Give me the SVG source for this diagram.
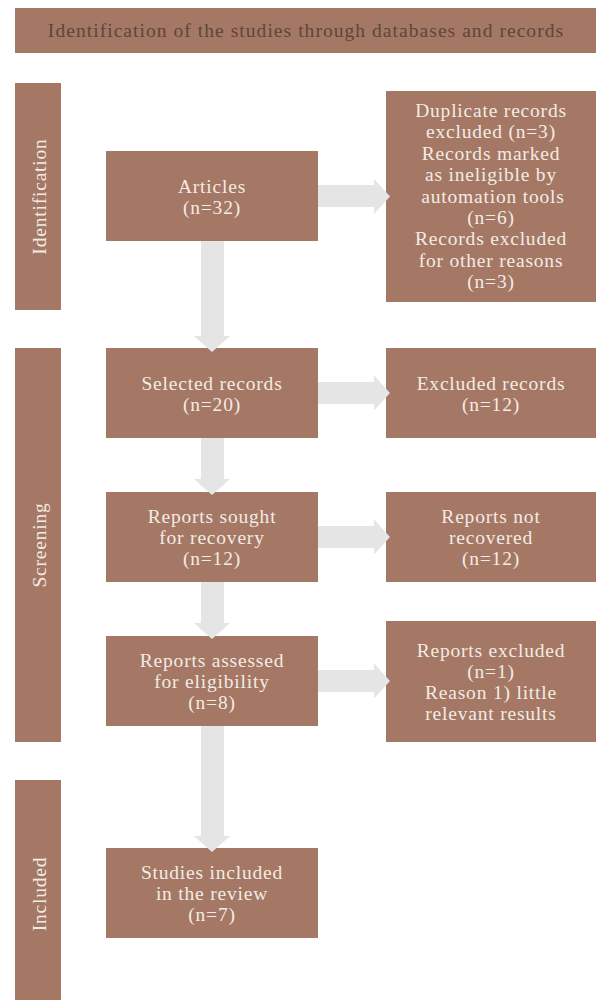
<svg xmlns="http://www.w3.org/2000/svg" width="596" height="1000" viewBox="0 0 596 1000">
<defs>
<style>
.box{fill:#a47864}
.t{font-family:'Liberation Serif','DejaVu Serif',serif;font-size:19.5px;letter-spacing:0.8px;fill:#f3ebe5;text-anchor:middle}
.h{font-family:'Liberation Serif','DejaVu Serif',serif;font-size:19.5px;letter-spacing:1.05px;fill:#5e463b;text-anchor:middle}
.arr{fill:#e5e5e5}
</style>
</defs>
<rect x="0" y="0" width="596" height="1000" fill="#ffffff"/>
<g id="header">
<rect class="box" x="15" y="8" width="581" height="45"/>
<text class="h" x="306" y="37">Identification of the studies through databases and records</text>
</g>
<g id="phase-identification">
<rect class="box" x="15" y="83" width="46" height="227"/>
<text class="t" transform="translate(45.5,196.5) rotate(-90)">Identification</text>
</g>
<g id="phase-screening">
<rect class="box" x="15" y="348" width="46" height="394"/>
<text class="t" transform="translate(45.5,545) rotate(-90)">Screening</text>
</g>
<g id="phase-included">
<rect class="box" x="15" y="780" width="46" height="220"/>
<text class="t" transform="translate(45.5,894) rotate(-90)">Included</text>
</g>
<g id="articles">
<rect class="box" x="106" y="151" width="212" height="90"/>
<text class="t" x="212" y="192.5">Articles</text>
<text class="t" x="212" y="213.5">(n=32)</text>
</g>
<g id="duplicates">
<rect class="box" x="386" y="91" width="210" height="211"/>
<text class="t" x="491" y="117">Duplicate records</text>
<text class="t" x="491" y="138.4">excluded (n=3)</text>
<text class="t" x="491" y="159.8">Records marked</text>
<text class="t" x="491" y="181.2">as ineligible by</text>
<text class="t" x="493" y="202.6">automation tools</text>
<text class="t" x="491" y="224">(n=6)</text>
<text class="t" x="491" y="245.4">Records excluded</text>
<text class="t" x="491" y="266.8">for other reasons</text>
<text class="t" x="491" y="288.2">(n=3)</text>
</g>
<g id="selected">
<rect class="box" x="106" y="348" width="212" height="90"/>
<text class="t" x="212" y="389.5">Selected records</text>
<text class="t" x="212" y="410.5">(n=20)</text>
</g>
<g id="excluded">
<rect class="box" x="386" y="348" width="210" height="90"/>
<text class="t" x="491" y="389.5">Excluded records</text>
<text class="t" x="491" y="410.5">(n=12)</text>
</g>
<g id="sought">
<rect class="box" x="106" y="492" width="212" height="90"/>
<text class="t" x="212" y="523">Reports sought</text>
<text class="t" x="212" y="544">for recovery</text>
<text class="t" x="212" y="565">(n=12)</text>
</g>
<g id="not-recovered">
<rect class="box" x="386" y="492" width="210" height="90"/>
<text class="t" x="491" y="523">Reports not</text>
<text class="t" x="491" y="544">recovered</text>
<text class="t" x="491" y="565">(n=12)</text>
</g>
<g id="assessed">
<rect class="box" x="106" y="636" width="212" height="90"/>
<text class="t" x="212" y="667">Reports assessed</text>
<text class="t" x="212" y="688">for eligibility</text>
<text class="t" x="212" y="709">(n=8)</text>
</g>
<g id="reports-excluded">
<rect class="box" x="386" y="621" width="210" height="121"/>
<text class="t" x="491" y="656.5">Reports excluded</text>
<text class="t" x="491" y="677.5">(n=1)</text>
<text class="t" x="491" y="698.5">Reason 1) little</text>
<text class="t" x="491" y="719.5">relevant results</text>
</g>
<g id="included">
<rect class="box" x="106" y="848" width="212" height="90"/>
<text class="t" x="212" y="879">Studies included</text>
<text class="t" x="212" y="900">in the review</text>
<text class="t" x="212" y="921">(n=7)</text>
</g>
<g id="connectors">
<polygon class="arr" points="318,185 374,185 374,179 390,196.5 374,214 374,207 318,207"/>
<polygon class="arr" points="318,382 374,382 374,375.5 390,393 374,410.5 374,404 318,404"/>
<polygon class="arr" points="318,526 374,526 374,519.5 390,537 374,554.5 374,548 318,548"/>
<polygon class="arr" points="318,670 374,670 374,663.5 390,681 374,698.5 374,692 318,692"/>
<polygon class="arr" points="201,241 224,241 224,336 230,336 212,352 194,336 201,336"/>
<polygon class="arr" points="201,438 224,438 224,479 230,479 212,495 194,479 201,479"/>
<polygon class="arr" points="201,582 224,582 224,623 230,623 212,639 194,623 201,623"/>
<polygon class="arr" points="201,726 224,726 224,836 230,836 212,852 194,836 201,836"/>
</g>
</svg>
